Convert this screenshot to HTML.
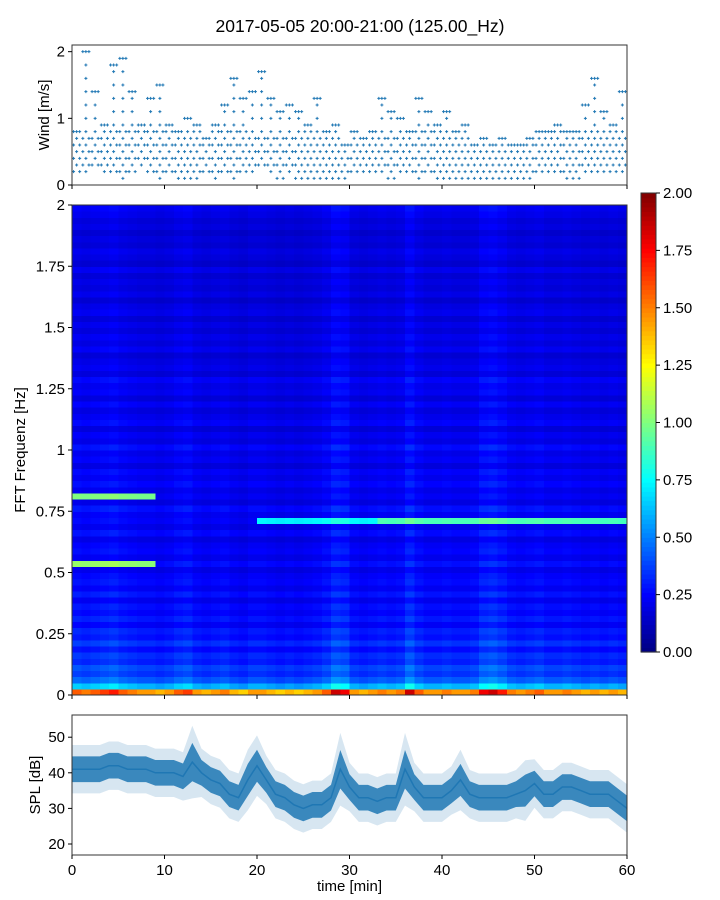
<!DOCTYPE html>
<html><head><meta charset="utf-8"><style>
body{margin:0;background:#fff;}
svg{display:block;font-family:"Liberation Sans","DejaVu Sans",sans-serif;}
</style></head><body>
<svg id="fig" width="720" height="900" viewBox="0 0 720 900" xmlns="http://www.w3.org/2000/svg">
<rect width="720" height="900" fill="#fff"/>
<text x="360" y="32" font-size="17.5" text-anchor="middle">2017-05-05 20:00-21:00 (125.00_Hz)</text>
<g id="wind"></g>
<g id="spec"></g>
<g id="cbar"></g>
<g id="spl"></g>
</svg>
<script>
// ---- data ----
const windMax=[0.8,2.0,1.4,0.9,1.8,1.9,1.4,0.9,1.3,1.5,0.9,0.8,1.0,0.9,0.7,0.9,1.2,1.6,1.3,1.4,1.7,1.3,1.1,1.2,1.1,0.9,1.3,0.8,0.9,0.6,0.8,0.7,0.8,1.3,1.1,1.0,0.8,1.3,1.1,0.9,1.1,0.8,0.9,0.6,0.7,0.6,0.7,0.6,0.6,0.7,0.8,0.8,0.9,0.8,0.8,1.2,1.6,1.1,0.9,1.4];
const windMin=[0.2,0.2,0.3,0.2,0.2,0.1,0.2,0.3,0.2,0.1,0.2,0.1,0.1,0.1,0.2,0.1,0.2,0.1,0.2,0.2,0.3,0.2,0.1,0.2,0.1,0.1,0.1,0.1,0.1,0.1,0.2,0.2,0.2,0.2,0.1,0.2,0.2,0.1,0.2,0.1,0.1,0.1,0.1,0.1,0.1,0.1,0.1,0.1,0.1,0.1,0.2,0.2,0.2,0.1,0.1,0.2,0.2,0.2,0.2,0.2];
const splMean=[41,41,41,41,42,42,41,41,41,40,40,40,39,43,40,38,37,34,33,38,42,38,34,33,31,30,31,31,33,41,36,33,33,32,33,33,41,36,33,33,33,35,38,34,33,33,33,33,34,35,37,34,34,36,36,35,34,34,34,32,30];
const splSpread=[4,4,4,4,4,4,4,4,4,4,4,4,4,6,4,4,4,4,4,5,5,4,4,4,4,4,4,4,4,6,4,4,4,4,4,4,6,4,4,4,4,4,5,4,4,4,4,4,4,5,4,4,4,4,4,4,4,4,4,4,4];
// spectrogram: row level per 0.025 Hz (80 rows, 0 -> 2 Hz)
const rowLevel=[1.45,0.6,0.42,0.34,0.38,0.30,0.33,0.26,0.34,0.27,0.30,0.23,0.29,0.24,0.27,0.21,0.28,0.22,0.26,0.24,0.20,0.27,0.21,0.25,0.23,0.19,0.26,0.20,0.24,0.22,0.27,0.19,0.23,0.20,0.25,0.21,0.24,0.18,0.23,0.20,0.26,0.19,0.22,0.17,0.24,0.21,0.18,0.23,0.17,0.22,0.20,0.24,0.17,0.21,0.19,0.16,0.22,0.18,0.21,0.17,0.20,0.16,0.21,0.19,0.15,0.20,0.17,0.19,0.16,0.21,0.15,0.18,0.20,0.16,0.18,0.15,0.19,0.17,0.20,0.22];
// column multiplier per minute (60)
const colLevel=[1.1,1.05,1.1,1.15,1.2,1.1,1.05,1.0,1.0,0.95,1.0,1.1,1.15,1.0,0.95,1.0,1.05,0.95,0.9,1.0,1.0,0.95,0.9,0.95,0.9,0.95,1.0,1.1,1.3,1.25,1.0,0.95,1.0,1.05,1.0,1.05,1.3,1.1,1.0,1.0,1.05,1.0,1.0,1.05,1.25,1.3,1.2,1.05,1.0,1.05,1.1,1.0,1.0,1.05,1.0,0.95,1.0,0.95,1.0,0.95];
const ridgeFreq=[0.82,0.545,0.72,0.725];
const ridgeStart=[0,0,20,33];
const ridgeEnd=[9,9,33,60];
const ridgeAmp=[0.75,0.75,0.5,0.65];
const cbTicks=["0.00","0.25","0.50","0.75","1.00","1.25","1.50","1.75","2.00"];
const specTicks=["0","0.25","0.5","0.75","1","1.25","1.5","1.75","2"];
const timeTicks=[0,10,20,30,40,50,60];
const splTicks=[20,30,40,50];
const windTicks=[0,1,2];

const NS="http://www.w3.org/2000/svg";
function mk(parent,tag,attrs,name,text){const e=document.createElementNS(NS,tag);for(const k in attrs)e.setAttribute(k,attrs[k]);


if(text!==undefined)e.textContent=text;parent.appendChild(e);return e;}
const L=72,R=627,PW=R-L;
const xT=t=>L+t*PW/60;
function jet(v){v=Math.max(0,Math.min(1,v));
 const r=Math.max(0,Math.min(1,Math.min(4*v-1.5,-4*v+4.5)));
 const g=Math.max(0,Math.min(1,Math.min(4*v-0.5,-4*v+3.5)));
 const b=Math.max(0,Math.min(1,Math.min(4*v+0.5,-4*v+2.5)));
 return `rgb(${Math.round(r*255)},${Math.round(g*255)},${Math.round(b*255)})`;}
function xticks(g,top,bot,labels){timeTicks.forEach(t=>{mk(g,'line',{x1:xT(t),x2:xT(t),y1:bot,y2:bot+4,stroke:'#000','stroke-width':1},'x-tick');
 if(labels)mk(g,'text',{x:xT(t),y:bot+20,'font-size':15,'text-anchor':'middle'},'x-tick-label',String(t));});}

// ---- wind panel ----
(function(){const g=document.getElementById('wind');const T=45,B=185;const yW=v=>B-v*(B-T)/2.1;
 const pts=mk(g,'g',{stroke:'#1f77b4','stroke-width':1},'wind-points');
 windMax.forEach((mx,m)=>{for(let k=0;k<3;k++){const t=m+0.17+0.33*k;let j=0;
  for(let v=windMin[m];v<=mx+1e-6;v+=0.1,j++){const top=v>mx-0.05;
   if(!top&&(j+k+m)%2===1)continue;
   if(v>0.85&&k!==1&&!top)continue;
   const x=xT(t),y=yW(Math.round(v*10)/10);
   mk(pts,'path',{d:`M${x-1.5},${y}h3M${x},${y-1.5}v3`},'wind-point');}}});
 mk(g,'rect',{x:L,y:T,width:PW,height:B-T,fill:'none',stroke:'#333','stroke-width':1},'wind-axes-frame');
 windTicks.forEach(v=>{mk(g,'line',{x1:L-4,x2:L,y1:yW(v),y2:yW(v),stroke:'#000'},'wind-y-tick');
  mk(g,'text',{x:L-7,y:yW(v)+5,'font-size':15,'text-anchor':'end'},'wind-y-tick-label',String(v));});
 xticks(g,T,B,false);
 mk(g,'text',{transform:`translate(49,${(T+B)/2}) rotate(-90)`,'font-size':15,'text-anchor':'middle'},'wind-y-axis-title','Wind [m/s]');})();

// ---- spectrogram ----
(function(){const g=document.getElementById('spec');const T=205,B=695;const yF=f=>B-f*(B-T)/2;
 const cells=mk(g,'g',{'shape-rendering':'crispEdges'},'heatmap-cells');
 const nr=rowLevel.length,nc=colLevel.length;
 for(let c=0;c<nc;c++)for(let r=0;r<nr;r++){
  const f=(r+0.5)*2/nr;let v=rowLevel[r]*colLevel[c];
  if(r<1)v=rowLevel[r]*(0.6+0.4*colLevel[c]*colLevel[c]);
  ridgeFreq.forEach((rf,i)=>{if(c>=ridgeStart[i]&&c<ridgeEnd[i]&&Math.abs(f-rf)<0.0125)v+=ridgeAmp[i];});
  const x0=xT(c*60/nc),x1=xT((c+1)*60/nc);
  mk(cells,'rect',{x:x0.toFixed(2),y:yF((r+1)*2/nr).toFixed(2),width:(x1-x0+0.5).toFixed(2),height:((B-T)/nr+0.5).toFixed(2),fill:jet(v/2)},'heatmap-cell');}
 mk(g,'rect',{x:L,y:T,width:PW,height:B-T,fill:'none',stroke:'#333'},'spectrogram-frame');
 specTicks.forEach((s,i)=>{const y=yF(i*0.25);mk(g,'line',{x1:L-4,x2:L,y1:y,y2:y,stroke:'#000'},'freq-tick');
  mk(g,'text',{x:L-7,y:y+5,'font-size':15,'text-anchor':'end'},'freq-tick-label',s);});
 xticks(g,T,B,false);
 mk(g,'text',{transform:`translate(25,${(T+B)/2}) rotate(-90)`,'font-size':15,'text-anchor':'middle'},'freq-axis-title','FFT Frequenz [Hz]');})();

// ---- colorbar ----
(function(){const g=document.getElementById('cbar');const T=193,B=652,X=641,W=15;
 const n=100;for(let i=0;i<n;i++){mk(g,'rect',{x:X,y:(B-(i+1)*(B-T)/n).toFixed(2),width:W,height:((B-T)/n+0.6).toFixed(2),fill:jet((i+0.5)/n)},'colorbar-segment');}
 mk(g,'rect',{x:X,y:T,width:W,height:B-T,fill:'none',stroke:'#333'},'colorbar-frame');
 cbTicks.forEach((s,i)=>{const y=B-i*(B-T)/8;mk(g,'line',{x1:X+W,x2:X+W+4,y1:y,y2:y,stroke:'#000'},'colorbar-tick');
  mk(g,'text',{x:X+W+7,y:y+5,'font-size':15},'colorbar-tick-label',s);});})();

// ---- SPL panel ----
(function(){const g=document.getElementById('spl');const T=715,B=855;const yS=v=>844-(v-20)*3.56;
 function band(k,op,name){let up='',dn='';splMean.forEach((m,i)=>{up+=(i?'L':'M')+xT(i).toFixed(1)+','+yS(m+splSpread[i]*k).toFixed(1);});
  for(let i=splMean.length-1;i>=0;i--)dn+='L'+xT(i).toFixed(1)+','+yS(splMean[i]-splSpread[i]*k).toFixed(1);
  mk(g,'path',{d:up+dn+'Z',fill:'#1f77b4','fill-opacity':op},name);}
 band(1.7,0.18,'spl-light-band');band(0.9,0.85,'spl-dark-band');
 let d='';splMean.forEach((m,i)=>{d+=(i?'L':'M')+xT(i).toFixed(1)+','+yS(m).toFixed(1);});
 mk(g,'path',{d:d,fill:'none',stroke:'#1f77b4','stroke-width':1.5},'spl-line');
 mk(g,'rect',{x:L,y:T,width:PW,height:B-T,fill:'none',stroke:'#333'},'spl-frame');
 splTicks.forEach(v=>{mk(g,'line',{x1:L-4,x2:L,y1:yS(v),y2:yS(v),stroke:'#000'},'spl-y-tick');
  mk(g,'text',{x:L-7,y:yS(v)+5,'font-size':15,'text-anchor':'end'},'spl-y-tick-label',String(v));});
 xticks(g,T,B,true);
 mk(g,'text',{transform:`translate(40,${(T+B)/2}) rotate(-90)`,'font-size':15,'text-anchor':'middle'},'spl-y-axis-title','SPL [dB]');
 mk(g,'text',{x:(L+R)/2,y:891,'font-size':15,'text-anchor':'middle'},'x-axis-title','time [min]');})();
</script>
</body></html>
